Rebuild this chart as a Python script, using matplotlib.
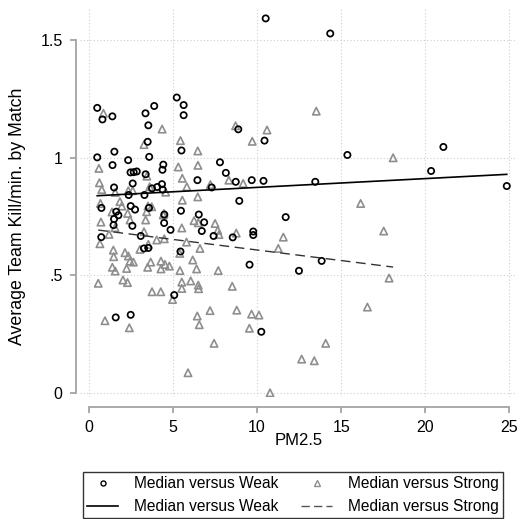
import matplotlib
matplotlib.use("Agg")
import matplotlib.pyplot as plt
from matplotlib.lines import Line2D
from matplotlib.ticker import FixedLocator, FixedFormatter
import numpy as np

plt.rcParams["font.family"] = ["Liberation Sans", "DejaVu Sans"]

# PM2.5 exposure vs. average team kills per minute, matches against weaker teams
weak_x = [0.49, 0.80, 1.39, 3.36, 3.88, 3.53, 3.49, 3.58, 5.22, 5.63, 5.63, 5.50,
          0.49, 1.51, 1.40, 2.33, 2.47, 2.66, 2.84, 3.37, 4.42, 4.37,
          2.60, 1.49, 3.30, 4.34, 4.38, 3.75, 4.06,
          6.45, 7.79, 8.14, 8.73, 9.68, 10.38, 8.94, 7.30,
          8.88, 10.44, 10.51, 14.35, 15.37, 21.08, 20.35, 13.46, 24.85,
          11.70, 9.77, 9.77, 12.49, 13.84, 10.25, 9.55,
          0.74, 0.73, 1.46, 1.62, 1.75, 1.49,
          2.48, 2.74, 2.58, 3.08, 3.27, 3.53, 3.57, 4.48, 4.47, 4.85,
          5.47, 6.53, 6.85, 6.71, 7.41,
          5.44, 5.07, 1.59, 2.48, 8.55, 2.36]
weak_y = [1.211, 1.162, 1.175, 1.188, 1.219, 1.137, 1.067, 1.003, 1.255, 1.223, 1.180, 1.030,
          1.001, 1.025, 0.968, 0.989, 0.937, 0.938, 0.941, 0.929, 0.970, 0.948,
          0.890, 0.873, 0.841, 0.887, 0.864, 0.869, 0.875,
          0.904, 0.980, 0.935, 0.897, 0.904, 0.901, 0.816, 0.873,
          1.120, 1.072, 1.591, 1.527, 1.011, 1.045, 0.943, 0.897, 0.879,
          0.747, 0.686, 0.671, 0.519, 0.561, 0.260, 0.545,
          0.786, 0.662, 0.713, 0.770, 0.755, 0.739,
          0.794, 0.779, 0.710, 0.667, 0.614, 0.616, 0.786, 0.758, 0.722, 0.693,
          0.774, 0.758, 0.725, 0.688, 0.667,
          0.601, 0.416, 0.321, 0.332, 0.661, 0.841]

# Matches against stronger teams
strong_x = [0.86, 4.35, 3.27, 5.44, 6.47, 5.31, 6.48, 0.59, 5.55, 3.44,
            0.62, 0.76, 1.56, 2.34, 2.60, 3.61, 4.56, 5.82, 7.22, 8.32,
            9.17, 8.72, 9.71, 6.47, 13.52, 10.59, 18.09,
            5.55, 1.84, 0.68, 3.51, 4.46, 1.37, 1.95, 2.30, 2.44, 1.55,
            1.19, 0.65, 0.71, 3.43, 3.73, 3.37, 4.42, 4.03, 4.48, 3.27,
            3.03, 3.53, 1.45, 1.47, 2.14, 2.34, 2.44, 2.64, 1.39, 1.56,
            2.24, 3.49, 3.67, 4.28, 4.52, 4.78, 4.28, 5.41, 5.40, 5.80,
            5.52, 6.25, 6.50, 6.60, 6.17, 6.40, 7.69, 7.50, 7.66, 7.73,
            8.76, 11.56, 11.26, 17.53, 16.16,
            0.55, 2.02, 2.29, 3.75, 4.27, 4.97, 5.52, 5.52, 6.05, 6.52,
            6.50, 8.52, 0.95, 2.40, 6.44, 6.56, 7.20, 8.79, 7.44, 5.89,
            9.54, 9.67, 10.11, 17.85, 16.56, 14.08, 12.65, 13.40, 10.77]
strong_y = [1.188, 1.121, 1.055, 1.072, 1.028, 0.960, 0.967, 0.954, 0.912, 0.921,
            0.893, 0.864, 0.852, 0.859, 0.859, 0.876, 0.853, 0.876, 0.885, 0.904,
            0.890, 1.135, 1.069, 0.833, 1.197, 1.117, 0.999,
            0.819, 0.813, 0.805, 0.794, 0.762, 0.769, 0.794, 0.763, 0.735, 0.702,
            0.674, 0.634, 0.726, 0.770, 0.791, 0.735, 0.756, 0.650, 0.655, 0.685,
            0.610, 0.631, 0.607, 0.579, 0.596, 0.582, 0.560, 0.556, 0.534, 0.518,
            0.529, 0.534, 0.556, 0.560, 0.546, 0.539, 0.527, 0.520, 0.593, 0.641,
            0.701, 0.732, 0.723, 0.614, 0.565, 0.527, 0.520, 0.720, 0.691, 0.673,
            0.679, 0.662, 0.614, 0.688, 0.805,
            0.466, 0.480, 0.469, 0.430, 0.430, 0.397, 0.444, 0.471, 0.476, 0.443,
            0.458, 0.453, 0.307, 0.277, 0.327, 0.290, 0.350, 0.352, 0.211, 0.086,
            0.275, 0.335, 0.331, 0.488, 0.365, 0.211, 0.144, 0.137, 0.001]

# Linear fits (intercept, slope)
fit_weak = (0.836, 0.00373)
fit_strong = (0.697, -0.00896)

x_ticks = [0, 5, 10, 15, 20, 25]
x_tick_labels = ["0", "5", "10", "15", "20", "25"]
y_ticks = [0, 0.5, 1.0, 1.5]
y_tick_labels = ["0", ".5", "1", "1.5"]

series_label_weak = "Median versus Weak"
series_label_strong = "Median versus Strong"

W, H = 518, 519
fig = plt.figure(figsize=(W / 100, H / 100), dpi=100)
ax = fig.add_axes([80 / W, 1 - 397 / H, (515 - 80) / W, (397 - 9) / H])

axis_grey = "#a4a4a4"
tri_grey = "#8e8e8e"

ax.set_xlim(-0.535, 25.34)
ax.set_ylim(-0.017, 1.631)

# dotted reference grid
for xv in x_ticks:
    ax.axvline(xv, color="#cfcfcf", lw=0.8, ls=(0, (1, 2)), zorder=0)
for yv in y_ticks:
    ax.axhline(yv, color="#cfcfcf", lw=0.8, ls=(0, (1, 2)), zorder=0)

ax.scatter(strong_x, strong_y, marker="^", s=28, facecolors="none",
           edgecolors=tri_grey, linewidths=1.2, zorder=2)
ax.scatter(weak_x, weak_y, marker="o", s=20, facecolors="none",
           edgecolors="black", linewidths=1.25, zorder=3)

xw = np.array([min(weak_x), max(weak_x)])
ax.plot(xw, fit_weak[0] + fit_weak[1] * xw, color="black", lw=1.2, zorder=4)
xs = np.array([min(strong_x), max(strong_x)])
ax.plot(xs, fit_strong[0] + fit_strong[1] * xs, color="#333333", lw=1.0,
        dashes=(7, 4), zorder=4)

for side in ("top", "right"):
    ax.spines[side].set_visible(False)
ax.spines["left"].set_position(("outward", 3))
ax.spines["bottom"].set_position(("outward", 7))
ax.spines["left"].set_bounds(0, 1.5)
ax.spines["bottom"].set_bounds(0, 25)
for side in ("left", "bottom"):
    ax.spines[side].set_color(axis_grey)
    ax.spines[side].set_linewidth(1.3)

ax.xaxis.set_major_locator(FixedLocator(x_ticks))
ax.xaxis.set_major_formatter(FixedFormatter(x_tick_labels))
ax.yaxis.set_major_locator(FixedLocator(y_ticks))
ax.yaxis.set_major_formatter(FixedFormatter(y_tick_labels))
ax.tick_params(axis="both", direction="out", length=4.5, width=1.3,
               color=axis_grey, labelsize=11.5, labelcolor="black")
ax.tick_params(axis="y", pad=5)
ax.tick_params(axis="x", pad=5)

ax.set_xlabel("PM2.5", fontsize=12)
ax.xaxis.set_label_coords((299 - 80) / 435, (397 - 433) / 388)
ax.set_ylabel("Average Team Kill/min. by Match", fontsize=12.8, va="center")
ax.yaxis.set_label_coords((18 - 80) / 435, (397 - 216) / 388)

handles = [
    Line2D([], [], marker="o", ls="none", mfc="none", mec="black", ms=3.6, mew=1.0),
    Line2D([], [], color="black", lw=1.2),
    Line2D([], [], marker="^", ls="none", mfc="none", mec=tri_grey, ms=4.2, mew=1.0),
    Line2D([], [], color="#555555", lw=1.0, dashes=(6, 3)),
]
labels = [series_label_weak, series_label_weak, series_label_strong, series_label_strong]
leg = fig.legend(handles, labels, ncol=2, loc="upper left",
                 bbox_to_anchor=(83 / W, 1 - 472 / H, (503 - 83) / W, 0),
                 mode="expand", fontsize=11.2, frameon=True, fancybox=False,
                 edgecolor="black", handlelength=2.0, handletextpad=1.0,
                 labelspacing=0.5, borderpad=0.28, borderaxespad=0.0,
                 columnspacing=1.0)
leg.get_frame().set_linewidth(1.0)

fig.savefig("out.png", dpi=100)
